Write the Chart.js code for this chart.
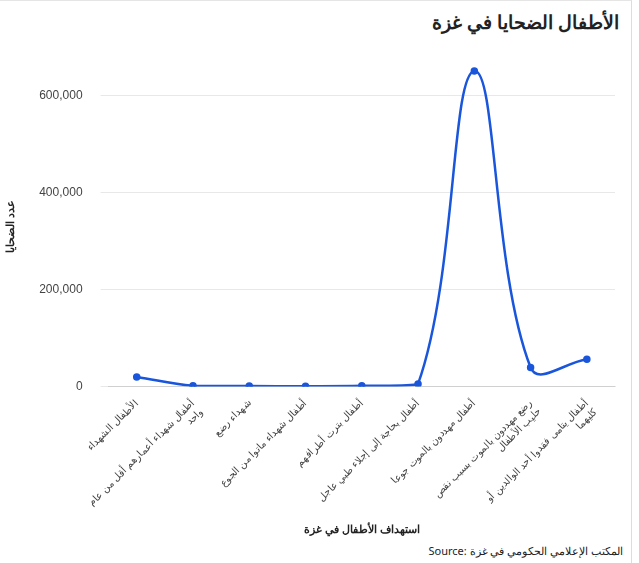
<!DOCTYPE html>
<html><head><meta charset="utf-8">
<script src="https://cdn.jsdelivr.net/npm/chart.js@4"></script>
<style>body{margin:0;background:#fff;font-family:"Noto Sans",sans-serif}
#wrap{position:relative;width:632px;height:563px;border-right:1px solid #ddd;border-top:1px solid #e5e5e5;box-sizing:border-box}
#t{position:absolute;right:12px;top:8px;font-weight:bold;font-size:19px;color:#222;direction:rtl}
#s{position:absolute;right:8px;top:542px;font-size:11px;color:#222}
#c{position:absolute;left:0;top:40px}</style></head><body>
<div id="wrap"><div id="t">الأطفال الضحايا في غزة</div>
<canvas id="c" width="625" height="500"></canvas>
<div id="s">Source: المكتب الإعلامي الحكومي في غزة</div></div>
<script>
const categories=[["الأطفال الشهداء"],["أطفال شهداء أعمارهم أقل من عام","واحد"],["شهداء رضع"],["أطفال شهداء ماتوا من الجوع"],["أطفال بترت أطرافهم"],["أطفال بحاجة إلى إجلاء طبي عاجل"],["أطفال مهددون بالموت جوعا"],["رضع مهددون بالموت بسبب نقص","حليب الأطفال"],["أطفال يتامى فقدوا أحد الوالدين أو","كليهما"]];
const values=[19500,1200,600,350,1100,5000,650000,39000,56000];
const yTicks=[0,200000,400000,600000];
new Chart(document.getElementById('c'),{type:'line',
data:{labels:categories,datasets:[{data:values,borderColor:'#1a56db',backgroundColor:'#1a56db',borderWidth:2.5,pointRadius:2.5,tension:0.4}]},
options:{responsive:false,animation:false,layout:{padding:{right:10,top:14}},
plugins:{legend:{display:false}},
scales:{y:{min:0,max:660000,afterBuildTicks:a=>{a.ticks=yTicks.map(v=>({value:v}));},
ticks:{color:'#444',font:{size:12},padding:18,callback:v=>v.toLocaleString('en-US')},grid:{color:'#e8e8e8'},border:{display:false},
title:{display:true,text:'عدد الضحايا',font:{size:11,weight:'bold'},color:'#222'}},
x:{offset:true,ticks:{maxRotation:45,minRotation:45,color:'#444',font:{size:10}},grid:{display:false},
title:{display:true,text:'استهداف الأطفال في غزة',font:{size:11,weight:'bold'},color:'#222'}}}}});
</script></body></html>
